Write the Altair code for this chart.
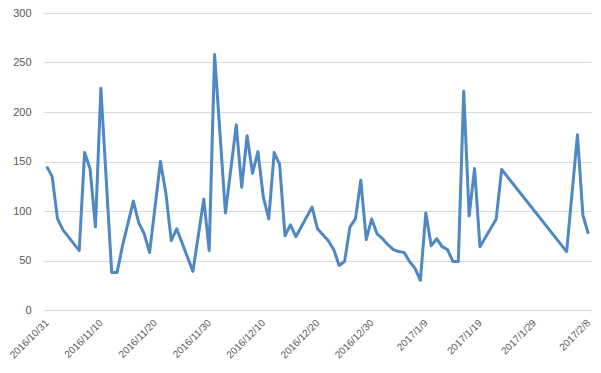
import altair as alt
import pandas as pd

dates = [
    "2016-10-31", "2016-11-01", "2016-11-02", "2016-11-03", "2016-11-06", "2016-11-07",
    "2016-11-08", "2016-11-09", "2016-11-10", "2016-11-12", "2016-11-13", "2016-11-14",
    "2016-11-16", "2016-11-17", "2016-11-18", "2016-11-19", "2016-11-21", "2016-11-22",
    "2016-11-23", "2016-11-24", "2016-11-27", "2016-11-29", "2016-11-30", "2016-12-01",
    "2016-12-03", "2016-12-05", "2016-12-06", "2016-12-07", "2016-12-08", "2016-12-09",
    "2016-12-10", "2016-12-11", "2016-12-12", "2016-12-13", "2016-12-14", "2016-12-15",
    "2016-12-16", "2016-12-19", "2016-12-20", "2016-12-22", "2016-12-23", "2016-12-24",
    "2016-12-25", "2016-12-26", "2016-12-27", "2016-12-28", "2016-12-29", "2016-12-30",
    "2016-12-31", "2017-01-01", "2017-01-02", "2017-01-03", "2017-01-04", "2017-01-05",
    "2017-01-06", "2017-01-07", "2017-01-08", "2017-01-09", "2017-01-10", "2017-01-11",
    "2017-01-12", "2017-01-13", "2017-01-14", "2017-01-15", "2017-01-16", "2017-01-17",
    "2017-01-18", "2017-01-19", "2017-01-22", "2017-01-23", "2017-02-04", "2017-02-06",
    "2017-02-07", "2017-02-08",
]
values = [
    145, 135, 92, 81, 60, 159,
    143, 84, 224, 38, 38, 65,
    110, 88, 77, 58, 150, 118,
    70, 82, 39, 112, 60, 258,
    98, 187, 124, 176, 138, 160,
    114, 92, 159, 147, 75, 86,
    74, 104, 82, 70, 61, 45,
    49, 84, 92, 131, 71, 92,
    77, 72, 66, 61, 59, 58,
    49, 42, 30, 98, 65, 72,
    64, 61, 49, 49, 221, 95,
    143, 64, 92, 142, 59, 177,
    96, 77,
]
tick_dates = [
    "2016-10-31", "2016-11-10", "2016-11-20", "2016-11-30", "2016-12-10", "2016-12-20",
    "2016-12-30", "2017-01-09", "2017-01-19", "2017-01-29", "2017-02-08",
]
y_ticks = [0, 50, 100, 150, 200, 250, 300]

df = pd.DataFrame({"date": dates, "value": values})

tick_vals = [alt.DateTime(year=int(d[0:4]), month=int(d[5:7]), date=int(d[8:10])) for d in tick_dates]

chart = alt.Chart(df).mark_line(color="#4f88c2", strokeWidth=3, strokeJoin="round").encode(
    x=alt.X(
        "date:T",
        scale=alt.Scale(domain=[
            alt.DateTime(year=2016, month=10, date=30, hours=12),
            alt.DateTime(year=2017, month=2, date=8, hours=12),
        ]),
        axis=alt.Axis(
            title=None, values=tick_vals, format="%Y/%-m/%-d", labelAngle=-45,
            labelAlign="right", labelBaseline="middle", labelPadding=11, labelOffset=0,
            ticks=False, grid=False, domainColor="#d9d9d9", domainWidth=1,
            labelColor="#595959", labelFont="Liberation Sans", labelFontSize=10,
            labelOverlap=False, labelFlush=False, labelBound=False,
        ),
    ),
    y=alt.Y(
        "value:Q",
        scale=alt.Scale(domain=[0, 300], nice=False),
        axis=alt.Axis(
            title=None, values=y_ticks, ticks=False, domain=False, gridColor="#d9d9d9",
            labelColor="#595959", labelFont="Liberation Sans", labelFontSize=11, labelPadding=13,
        ),
    ),
).properties(
    width=547, height=297,
    autosize=alt.AutoSizeParams(type="none"),
    padding={"left": 36, "top": 5, "right": 2, "bottom": 55},
).configure_view(stroke=None)

chart.save("out.html", embed_options={"renderer": "svg", "actions": False})
